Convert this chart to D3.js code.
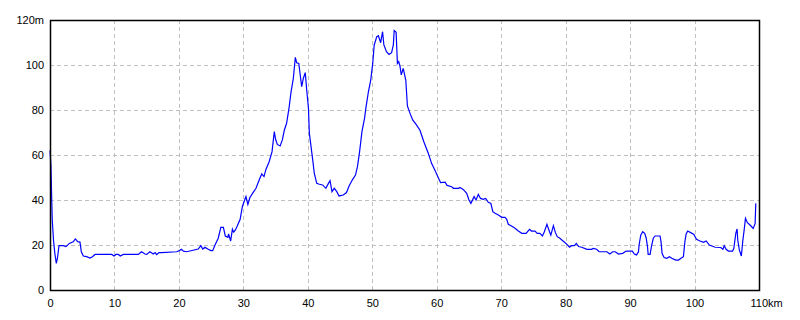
<!DOCTYPE html>
<html lang="ja">
<head>
    <meta charset="UTF-8">
    <title>標高グラフ</title>
    <script src="https://d3js.org/d3.v7.min.js"></script>
    <style>
        body { margin: 0; background: #fff; }
        text { font-family: "Liberation Sans", Arial, sans-serif; font-size: 11px; fill: #000; }
        .grid line { stroke: #c0c0c0; stroke-dasharray: 4,3; }
    </style>
</head>
<body>
    <svg width="800" height="320"></svg>
    <script>
        // 距離 (km) と標高 (m)
        const distKm = [
            0, 0.15, 0.25, 0.35, 0.55, 0.75, 0.98, 1.15, 1.4, 2.07, 2.48, 3.0, 3.6, 3.93, 4.3, 4.65, 4.86, 5.17, 5.69, 6.2,
            6.6, 6.98, 9.57, 9.93, 10.24, 10.6, 10.9, 11.38, 13.7, 14.2, 14.74, 15.0, 15.5, 16.03, 16.3, 16.55, 16.9, 17.3, 19.65, 20.07,
            20.4, 20.7, 21.2, 23.0, 23.4, 23.7, 24.05, 24.47, 24.98, 25.24, 25.6, 26.1, 26.5, 26.9, 27.2, 27.6, 27.7, 28.03, 28.3, 28.5,
            28.76, 29.0, 29.5, 29.84, 30.2, 30.4, 30.7, 31.0, 31.5, 31.96, 32.5, 32.85, 33.2, 33.5, 34.0, 34.45, 34.8, 35.0, 35.27, 35.7,
            36.05, 36.36, 36.7, 37.1, 37.4, 37.75, 38.06, 38.27, 38.6, 38.95, 39.05, 39.3, 39.6, 39.83, 40.1, 40.24, 40.5, 40.76, 41.0, 41.38,
            41.8, 42.3, 42.8, 43.2, 43.45, 43.75, 44.1, 44.5, 44.84, 45.5, 46.0, 46.4, 46.96, 47.4, 47.7, 48.0, 48.4, 48.8, 49.0, 49.4,
            49.76, 50.07, 50.3, 50.7, 50.95, 51.3, 51.6, 51.8, 52.2, 52.6, 53.0, 53.27, 53.4, 53.7, 53.9, 54.1, 54.3, 54.5, 54.8, 55.2,
            55.45, 55.86, 56.27, 56.8, 57.4, 58.0, 58.7, 59.2, 59.7, 60.6, 61.3, 61.6, 62.3, 62.6, 63.4, 63.6, 64.1, 64.65, 65.0, 65.3,
            65.8, 66.1, 66.45, 66.8, 67.2, 67.6, 68.0, 68.4, 68.7, 69.05, 69.56, 70.1, 70.6, 70.86, 71.1, 71.6, 72.15, 72.66, 73.2, 73.86,
            74.4, 74.7, 75.25, 75.6, 76.0, 76.4, 76.7, 77.1, 77.5, 77.7, 78.1, 78.4, 78.7, 79.1, 79.6, 80.2, 80.6, 80.9, 81.35, 81.66,
            82.0, 82.5, 83.3, 84.0, 84.3, 84.8, 85.2, 86.4, 86.85, 87.3, 87.7, 88.2, 88.85, 89.4, 90.35, 90.66, 91.0, 91.3, 91.4, 91.65,
            91.96, 92.27, 92.5, 92.7, 92.8, 93.1, 93.36, 93.6, 93.87, 94.65, 94.8, 94.96, 95.27, 95.7, 96.1, 96.46, 97.1, 97.5, 97.9, 98.27,
            98.5, 98.7, 98.94, 99.4, 99.9, 100.3, 100.85, 101.4, 101.8, 102.3, 103.2, 104.06, 104.4, 104.6, 104.9, 105.25, 105.9, 106.1, 106.4, 106.6,
            106.7, 106.95, 107.26, 107.5, 107.7, 107.9, 108.2, 108.6, 109.1, 109.4, 109.5
        ];
        const elevM = [
            62, 55, 42, 31, 22, 16.3, 11.8, 14, 19.7, 19.7, 19.3, 20.7, 21.4, 22.7, 21.5, 21.3, 17, 15.1, 14.8, 14.2,
            14.8, 15.8, 15.8, 15.1, 15.8, 15.8, 15.1, 15.8, 15.8, 17, 16, 15.8, 17, 16, 16.6, 15.7, 16.6, 16.6, 17, 17.5,
            18.1, 17.3, 17, 18.2, 19.7, 18.2, 19, 18.2, 17.5, 17.5, 20, 23, 27.8, 27.8, 24, 23.4, 24.9, 21.8, 27, 25.7,
            26.7, 28.1, 31.4, 37, 40, 41.5, 38, 41, 43.3, 45.2, 49.2, 51.6, 50.4, 53.6, 57, 61.5, 70.4, 67, 64.7, 64,
            66.7, 71.1, 74, 81.2, 88.1, 94, 103.4, 101, 100.7, 92.6, 90.4, 94, 96.6, 88.9, 80.7, 69.6, 63.7, 57.8, 51.9, 47.4,
            47, 46.7, 45.2, 47.4, 48.6, 43.7, 45.2, 43.7, 41.8, 42.2, 43.3, 46.2, 49.2, 51.1, 54.8, 60.7, 70.4, 76.3, 80.7, 88.1,
            93.3, 100.7, 108.9, 112.6, 113, 109.9, 114.8, 108.9, 105.9, 104.7, 105.5, 108.9, 115.3, 114.5, 100.7, 101.5, 99.5, 95.6, 98.5, 93.3,
            81.8, 78.5, 75.6, 73.6, 71, 65.9, 60.7, 56.3, 53.3, 47.7, 47.9, 46.5, 45.9, 45.2, 45.2, 45.6, 44.7, 43, 40, 38.5,
            41.5, 40, 42.5, 40.7, 40.3, 40.7, 39, 38.5, 34.8, 34.1, 33.3, 32.3, 32.3, 31.4, 29.2, 28.4, 27.4, 26.2, 25.2, 25.2,
            27, 26.2, 26.2, 25.2, 25.2, 24, 25.9, 29.2, 25.9, 24.4, 28.6, 25.6, 23.7, 23, 21.8, 20.3, 19, 19.7, 19.7, 20.7,
            19.3, 19, 18.1, 18.1, 18.5, 18.1, 17, 17, 16, 17, 17, 16, 16.3, 17.3, 17.3, 16, 15.6, 17, 20, 24.4,
            25.9, 25.2, 23, 19.3, 15.8, 15.8, 20, 23, 24, 24, 21.5, 16.3, 14.4, 14.1, 14.8, 14.1, 13.3, 13.3, 14.1, 14.8,
            21.5, 24.9, 26.2, 25.5, 24.7, 22.5, 21.8, 21.2, 21.8, 20, 19, 18.9, 18.1, 19.7, 18.1, 17.3, 17.3, 18.5, 25.2, 27.1,
            22.2, 17.8, 15.1, 22.2, 26.7, 31.9, 29.9, 28.9, 27.4, 29.6, 38.5
        ];
        const xTicks = [0, 10, 20, 30, 40, 50, 60, 70, 80, 90, 100, 110];
        const yTicks = [0, 20, 40, 60, 80, 100, 120];

        const svg = d3.select("svg");
        const margin = { top: 20, right: 41, bottom: 30, left: 50 };
        const width = 800 - margin.left - margin.right;
        const height = 320 - margin.top - margin.bottom;

        const g = svg.append("g")
            .attr("transform", `translate(${margin.left},${margin.top})`);

        const x = d3.scaleLinear().domain([0, 110]).range([0, width]);
        const y = d3.scaleLinear().domain([0, 120]).range([height, 0]);

        // グリッド
        g.append("g").attr("class", "grid")
            .selectAll("line")
            .data(xTicks.slice(1, -1))
            .join("line")
            .attr("x1", d => Math.round(x(d)) + 0.5)
            .attr("x2", d => Math.round(x(d)) + 0.5)
            .attr("y1", 0)
            .attr("y2", height);

        g.append("g").attr("class", "grid")
            .selectAll("line")
            .data(yTicks.slice(1, -1))
            .join("line")
            .attr("x1", 0)
            .attr("x2", width)
            .attr("y1", d => Math.round(y(d)) + 0.5)
            .attr("y2", d => Math.round(y(d)) + 0.5);

        // 標高ライン
        const data = distKm.map((d, i) => ({ km: d, m: elevM[i] }));
        g.append("path")
            .datum(data)
            .attr("fill", "none")
            .attr("stroke", "#0000ff")
            .attr("stroke-width", 1.2)
            .attr("d", d3.line().x(d => x(d.km)).y(d => y(d.m)));

        // 枠
        g.append("rect")
            .attr("x", 0.5)
            .attr("y", 0.5)
            .attr("width", width)
            .attr("height", height)
            .attr("fill", "none")
            .attr("stroke", "#000")
            .attr("stroke-width", 1.5);

        // 軸ラベル
        const xAxis = g.append("g")
            .attr("transform", `translate(0,${height})`)
            .call(d3.axisBottom(x).tickValues(xTicks).tickSize(0).tickPadding(9)
                .tickFormat(d => d === 110 ? "110km" : d));
        xAxis.select(".domain").remove();
        xAxis.selectAll("text")
            .attr("font-family", null).attr("font-size", null)
            .filter(d => d === 110)
            .attr("text-anchor", "start")
            .attr("dx", -9);

        const yAxis = g.append("g")
            .call(d3.axisLeft(y).tickValues(yTicks).tickSize(0).tickPadding(6)
                .tickFormat(d => d === 120 ? "120m" : d));
        yAxis.select(".domain").remove();
        yAxis.selectAll("text").attr("font-family", null).attr("font-size", null);
    </script>
</body>
</html>
